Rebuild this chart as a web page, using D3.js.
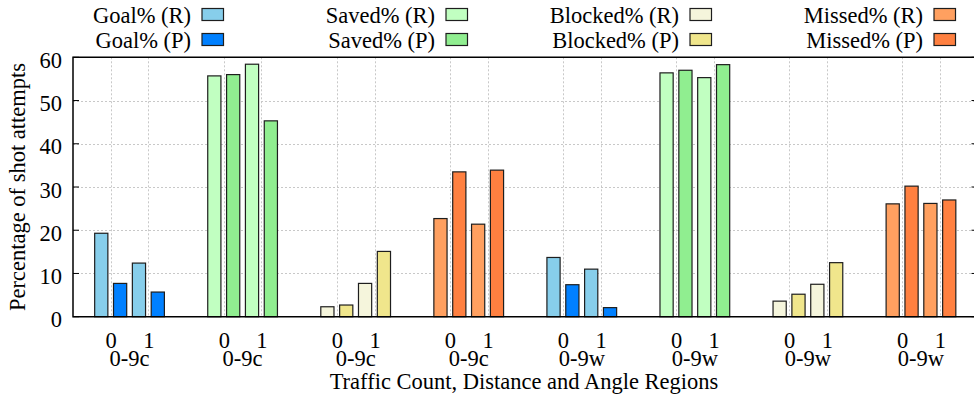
<!DOCTYPE html>
<html>
<head>
<meta charset="utf-8">
<script src="https://cdn.jsdelivr.net/npm/d3@7"></script>
<style>
  html, body { margin: 0; padding: 0; background: #fff; }
  svg { display: block; }
</style>
</head>
<body>
<svg id="chart" width="974" height="401"></svg>
<script>
// Region label of each group, and the outcome it reports
const regions = ["0-9c", "0-9c", "0-9c", "0-9c", "0-9w", "0-9w", "0-9w", "0-9w"];
const outcomes = ["Goal", "Saved", "Blocked", "Missed", "Goal", "Saved", "Blocked", "Missed"];
// Traffic count ticks inside each group
const trafficTicks = ["0", "1"];

// Percentages per group: (R) and (P) at traffic 0 and traffic 1
const rTraffic0 = [19.3, 55.7, 2.3, 22.7, 13.7, 56.4, 3.6, 26.1];
const pTraffic0 = [7.7, 56.0, 2.7, 33.5, 7.4, 57.0, 5.2, 30.2];
const rTraffic1 = [12.4, 58.4, 7.7, 21.4, 11.0, 55.3, 7.5, 26.2];
const pTraffic1 = [5.7, 45.3, 15.1, 33.9, 2.1, 58.3, 12.5, 27.0];

const yTicks = [0, 10, 20, 30, 40, 50, 60];

const legendItems = [
  { label: "Goal% (R)", outcome: "Goal", kind: "R" },
  { label: "Goal% (P)", outcome: "Goal", kind: "P" },
  { label: "Saved% (R)", outcome: "Saved", kind: "R" },
  { label: "Saved% (P)", outcome: "Saved", kind: "P" },
  { label: "Blocked% (R)", outcome: "Blocked", kind: "R" },
  { label: "Blocked% (P)", outcome: "Blocked", kind: "P" },
  { label: "Missed% (R)", outcome: "Missed", kind: "R" },
  { label: "Missed% (P)", outcome: "Missed", kind: "P" }
];

const palette = {
  Goal:    { R: "#87ceeb", P: "#0080ff" },
  Saved:   { R: "#c1ffc1", P: "#90ee90" },
  Blocked: { R: "#f5f5dc", P: "#f0e68c" },
  Missed:  { R: "#ffa060", P: "#ff8040" }
};

const FONT = "Liberation Serif";
const FS = 22.5;

const svg = d3.select("#chart").style("font-family", FONT);
const plotL = 73, plotR = 977.5, plotT = 57.3, plotB = 316.7;

// one x unit per traffic tick, groups three units apart
const x = d3.scaleLinear().domain([-1, 23]).range([plotL, plotR]);
const y = d3.scaleLinear().domain([0, 60]).range([plotB, plotT]);

// Build the flat bar list
const bars = [];
regions.forEach((reg, g) => {
  const series = [
    { t: 0, kind: "R", v: rTraffic0[g] },
    { t: 0, kind: "P", v: pTraffic0[g] },
    { t: 1, kind: "R", v: rTraffic1[g] },
    { t: 1, kind: "P", v: pTraffic1[g] }
  ];
  series.forEach(s => {
    bars.push({
      pos: 3 * g + s.t + (s.kind === "R" ? -0.25 : 0.25),
      value: s.v,
      color: palette[outcomes[g]][s.kind]
    });
  });
});

const tickPositions = [];
regions.forEach((reg, g) => trafficTicks.forEach((t, i) => tickPositions.push({ pos: 3 * g + i, label: t })));

// Grid
const grid = svg.append("g").attr("stroke", "#c8c8c8").attr("stroke-width", 1).attr("stroke-dasharray", "2,2");
grid.selectAll("line.h").data(yTicks.filter(v => v > 0 && v < 60)).join("line")
  .attr("x1", plotL).attr("x2", plotR)
  .attr("y1", d => Math.round(y(d)) + 0.5).attr("y2", d => Math.round(y(d)) + 0.5);
grid.selectAll("line.v").data(tickPositions).join("line")
  .attr("x1", d => Math.round(x(d.pos)) + 0.5).attr("x2", d => Math.round(x(d.pos)) + 0.5)
  .attr("y1", plotT).attr("y2", plotB);

// Bars
const barW = x(0.35) - x(0);
svg.append("g").selectAll("rect").data(bars).join("rect")
  .attr("x", d => x(d.pos) - barW / 2)
  .attr("y", d => y(d.value))
  .attr("width", barW)
  .attr("height", d => y(0) - y(d.value))
  .attr("fill", d => d.color)
  .attr("stroke", "#1e1e1e")
  .attr("stroke-width", 1.2);

// Frame
svg.append("path")
  .attr("d", `M${plotR},${plotT}H${plotL}V${plotB}H${plotR}`)
  .attr("fill", "none").attr("stroke", "#000").attr("stroke-width", 1.5);

// Y ticks, mirrored on both sides
const tk = svg.append("g").attr("stroke", "#000").attr("stroke-width", 1);
tk.selectAll("line.l").data(yTicks).join("line")
  .attr("x1", plotL).attr("x2", plotL + 6).attr("y1", d => y(d)).attr("y2", d => y(d));
tk.selectAll("line.r").data(yTicks).join("line")
  .attr("x1", plotR - 6).attr("x2", plotR).attr("y1", d => y(d)).attr("y2", d => y(d));

// Y axis labels
const yAxis = d3.axisLeft(y).tickValues(yTicks).tickSize(0).tickPadding(11);
const ya = svg.append("g").attr("transform", `translate(${plotL},0)`).call(yAxis);
ya.select(".domain").remove();
ya.attr("font-family", null).attr("font-size", null);
ya.selectAll("text").style("font-family", FONT).style("font-size", FS + "px").attr("fill", "#000").attr("dy", "0.45em");

// X tick labels
const xAxis = d3.axisBottom(x).tickValues(tickPositions.map(d => d.pos))
  .tickFormat((d, i) => tickPositions[i].label).tickSize(0).tickPadding(15);
const xa = svg.append("g").attr("transform", `translate(0,${plotB})`).call(xAxis);
xa.select(".domain").remove();
xa.attr("font-family", null).attr("font-size", null);
xa.selectAll("text").style("font-family", FONT).style("font-size", FS + "px").attr("fill", "#000");

// Region labels
svg.append("g").selectAll("text").data(regions).join("text")
  .attr("x", (d, g) => x(3 * g + 0.5))
  .attr("y", 366)
  .attr("text-anchor", "middle")
  .style("font-family", FONT).style("font-size", FS + "px")
  .text(d => d);

// Axis titles
svg.append("text")
  .attr("x", 524)
  .attr("y", 389)
  .attr("text-anchor", "middle")
  .style("font-family", FONT).style("font-size", FS + "px")
  .text("Traffic Count, Distance and Angle Regions");

svg.append("text")
  .attr("transform", `translate(25,${(plotT + plotB) / 2}) rotate(-90)`)
  .attr("text-anchor", "middle")
  .style("font-family", FONT).style("font-size", FS + "px")
  .text("Percentage of shot attempts");

// Legend: four columns of two rows, label to the left of its swatch
const legend = svg.append("g");
legendItems.forEach((it, i) => {
  const col = Math.floor(i / 2), row = i % 2;
  const sx = 202 + col * 244, cy = 14.5 + row * 25;
  legend.append("rect")
    .attr("x", sx).attr("y", cy - 6).attr("width", 21.5).attr("height", 12)
    .attr("fill", palette[it.outcome][it.kind])
    .attr("stroke", "#1e1e1e").attr("stroke-width", 1.2);
  legend.append("text")
    .attr("x", sx - 11).attr("y", cy + 8)
    .attr("text-anchor", "end")
    .style("font-family", FONT).style("font-size", FS + "px")
    .text(it.label);
});
</script>
</body>
</html>
